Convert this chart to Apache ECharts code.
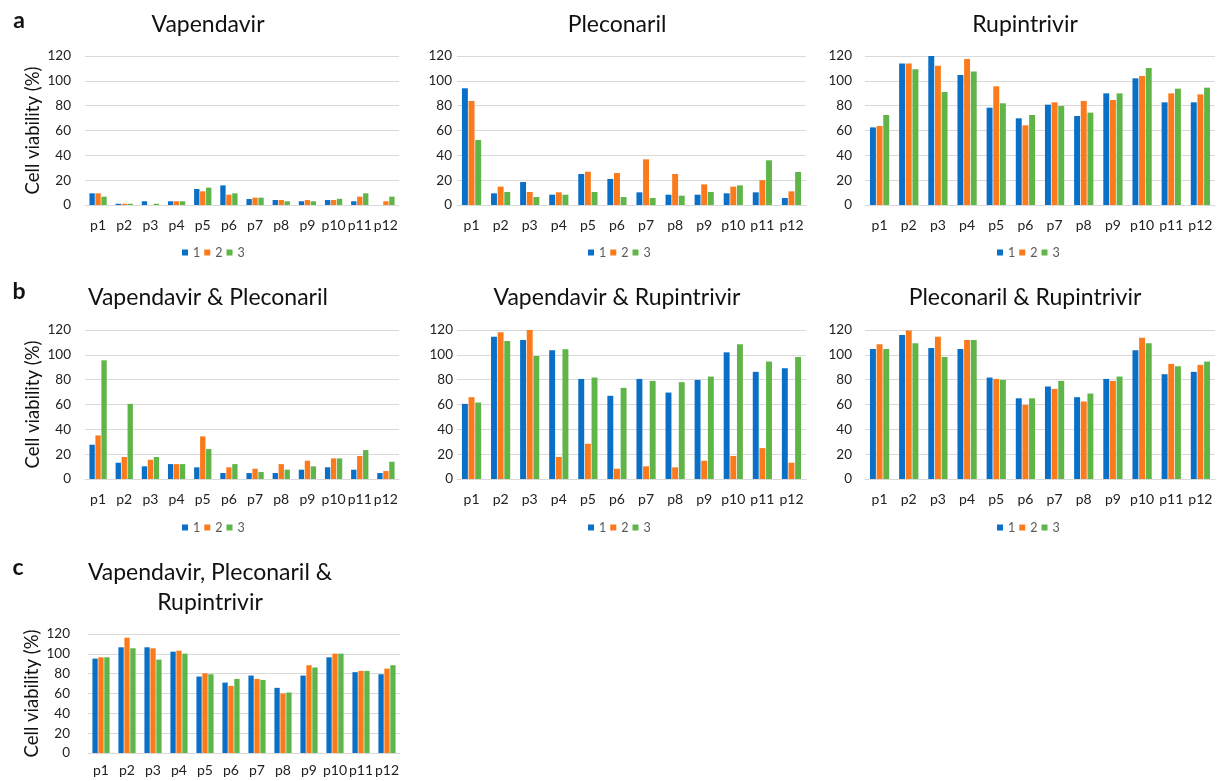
<!DOCTYPE html>
<html>
<head>
<meta charset="utf-8">
<script src="https://cdn.jsdelivr.net/npm/echarts@6/dist/echarts.min.js"></script>
<style>
  html, body { margin: 0; padding: 0; background: #fff; }
  #chart { width: 1218px; height: 781px; }
</style>
</head>
<body>
<div id="chart"></div>
<script>
// Passage categories
const categories = ['p1', 'p2', 'p3', 'p4', 'p5', 'p6', 'p7', 'p8', 'p9', 'p10', 'p11', 'p12'];
const seriesNames = ['1', '2', '3'];
const yTicks = [0, 20, 40, 60, 80, 100, 120];

// Cell viability (%) per passage, replicate 1 / 2 / 3
const vap1 = [9.4, 1, 3, 3, 12.9, 15.8, 4.8, 4, 3, 4, 3, 0];
const vap2 = [9.4, 1, 0, 3, 11, 8.3, 5.9, 4, 4, 4, 6.7, 3];
const vap3 = [6.7, 1, 1, 3, 14, 9.4, 5.9, 3, 3, 5, 9.4, 6.7];

const ple1 = [94, 9.4, 18.5, 8.3, 25, 21, 10.2, 8.3, 8.3, 9.4, 10.2, 5.6];
const ple2 = [83.8, 14.8, 10.5, 10.2, 26.8, 25.8, 36.8, 25, 16.6, 14.8, 20, 11];
const ple3 = [52.3, 10.5, 6.4, 8.3, 10.5, 6.4, 5.6, 7.5, 10.5, 15.8, 36, 26.6];

const rup1 = [62.5, 114, 120, 104.7, 78.4, 69.8, 80.8, 71.7, 89.9, 102, 82.7, 82.7];
const rup2 = [63.6, 114, 112.2, 117.6, 95.6, 64.2, 82.7, 83.8, 84.6, 103.9, 89.9, 89.1];
const rup3 = [72.5, 109.3, 91, 107.6, 81.9, 72.5, 79.7, 74.4, 89.9, 110.3, 93.7, 94.5];

const vapPle1 = [27.6, 13.1, 10.2, 12, 9.4, 4.8, 4.8, 4.8, 7.5, 9.4, 7.5, 4.8];
const vapPle2 = [35.1, 17.7, 15.5, 12, 34.3, 9.4, 8.3, 12, 14.7, 16.6, 18.5, 6.4];
const vapPle3 = [95.6, 60.5, 17.7, 12, 24.1, 12, 5.6, 7.5, 10.2, 16.6, 23.3, 13.9];

const vapRup1 = [60.5, 114.6, 112, 103.7, 80.6, 67, 80.6, 69.6, 79.8, 102, 86.3, 89.2];
const vapRup2 = [65.9, 118.1, 120, 17.7, 28.4, 8.3, 10.2, 9.4, 14.7, 18.5, 24.9, 13.1];
const vapRup3 = [61.6, 111.2, 99.1, 104.5, 81.7, 73.4, 79, 78, 82.5, 108.5, 94.6, 98.3];

const pleRup1 = [104.7, 116, 105.5, 104.7, 81.7, 65, 74.5, 65.9, 80.6, 103.7, 84.4, 86.3];
const pleRup2 = [108.5, 119.5, 114.6, 112, 80.6, 59.7, 72.6, 62.4, 79, 113.8, 92.7, 91.9];
const pleRup3 = [104.7, 109.3, 98.3, 112, 79.8, 65, 79, 68.8, 82.5, 109.3, 90.8, 94.6];

const triple1 = [95.2, 106.6, 106.6, 102.2, 77.1, 71, 78.1, 65.7, 78.1, 96.5, 81.5, 79.4];
const triple2 = [96.5, 116.3, 105.6, 103.2, 80.4, 67.7, 74.7, 60, 88.5, 100.2, 82.8, 85.1];
const triple3 = [96.5, 105.6, 94.2, 100.2, 79.4, 74.7, 73.7, 61, 86.2, 100.2, 82.8, 88.5];

const colors = ['#0A6FC6', '#FB7B1C', '#5FB548'];
const FONT = 'Lato, "Open Sans", sans-serif';

// Panel layout: plot box, title, y-axis name, legend placement
const panels = [
  { title: ['Vapendavir'], data: [vap1, vap2, vap3], grid: [85, 56, 314, 149], yName: true, labelMargin: 14, legend: 182, legendTop: 246, titleY: [25], titleX: 208 },
  { title: ['Pleconaril'], data: [ple1, ple2, ple3], grid: [457, 56, 349, 149], yName: false, labelMargin: 5, legend: 588, legendTop: 246, titleY: [25], titleX: 617 },
  { title: ['Rupintrivir'], data: [rup1, rup2, rup3], grid: [865, 56, 350, 149], yName: false, labelMargin: 13, legend: 997, legendTop: 246, titleY: [25], titleX: 1025 },
  { title: ['Vapendavir & Pleconaril'], data: [vapPle1, vapPle2, vapPle3], grid: [85, 330, 314, 149], yName: true, labelMargin: 14, legend: 182, legendTop: 521, titleY: [298], titleX: 208 },
  { title: ['Vapendavir & Rupintrivir'], data: [vapRup1, vapRup2, vapRup3], grid: [457, 330, 349, 149], yName: false, labelMargin: 4, legend: 588, legendTop: 521, titleY: [298], titleX: 617 },
  { title: ['Pleconaril & Rupintrivir'], data: [pleRup1, pleRup2, pleRup3], grid: [865, 330, 350, 149], yName: false, labelMargin: 13, legend: 997, legendTop: 521, titleY: [298], titleX: 1025 },
  { title: ['Vapendavir, Pleconaril &', 'Rupintrivir'], data: [triple1, triple2, triple3], grid: [88, 634, 312, 119], yName: true, labelMargin: 18, legend: null, titleY: [573, 603], titleX: 210, xMargin: 10 }
];

const grids = [], xAxes = [], yAxes = [], series = [], legends = [], graphics = [];

panels.forEach((p, i) => {
  grids.push({ left: p.grid[0], top: p.grid[1], width: p.grid[2], height: p.grid[3], containLabel: false });
  xAxes.push({
    type: 'category', gridIndex: i, data: categories,
    axisLine: { lineStyle: { color: '#D9D9D9', width: 1 } },
    axisTick: { show: false },
    axisLabel: { color: '#222', fontSize: 14, fontFamily: FONT, margin: p.xMargin || 13, interval: 0 }
  });
  yAxes.push({
    type: 'value', gridIndex: i, min: yTicks[0], max: yTicks[yTicks.length - 1], interval: yTicks[1] - yTicks[0],
    axisLine: { show: false }, axisTick: { show: false },
    splitLine: { lineStyle: { color: '#D9D9D9', width: 1 } },
    axisLabel: { color: '#222', fontSize: 13.5, fontFamily: FONT, margin: p.labelMargin },
    name: p.yName ? 'Cell viability (%)' : '',
    nameLocation: 'middle', nameRotate: 90, nameGap: i === 6 ? 46 : 42,
    nameTextStyle: { color: '#111', fontSize: 18.5, fontFamily: FONT }
  });
  p.data.forEach((vals, k) => {
    series.push({
      type: 'bar', name: seriesNames[k], xAxisIndex: i, yAxisIndex: i,
      data: vals, barGap: '12%', barCategoryGap: '34%',
      itemStyle: { color: colors[k] }, emphasis: { disabled: true }
    });
  });
  if (p.legend !== null) {
    legends.push({
      data: seriesNames, left: p.legend, top: p.legendTop, padding: 0,
      itemWidth: 6, itemHeight: 6, itemGap: 4, icon: 'rect',
      textStyle: { color: '#595959', fontSize: 12.5, fontFamily: FONT }
    });
  }
  p.title.forEach((line, j) => {
    graphics.push({
      type: 'text', x: p.titleX, y: p.titleY[j],
      style: { text: line, fill: '#111', font: '23px ' + FONT, textAlign: 'center', textVerticalAlign: 'middle' }
    });
  });
});

// Figure part letters
[['a', 19, 21], ['b', 19, 292], ['c', 18, 568]].forEach(([t, x, y]) => {
  graphics.push({
    type: 'text', x: x, y: y,
    style: { text: t, fill: '#111', font: 'bold 23px ' + FONT, textAlign: 'center', textVerticalAlign: 'middle' }
  });
});

const chart = echarts.init(document.getElementById('chart'), null, { renderer: 'canvas' });
chart.setOption({
  animation: false,
  backgroundColor: '#fff',
  grid: grids, xAxis: xAxes, yAxis: yAxes, series: series, legend: legends, graphic: graphics
});
</script>
</body>
</html>
